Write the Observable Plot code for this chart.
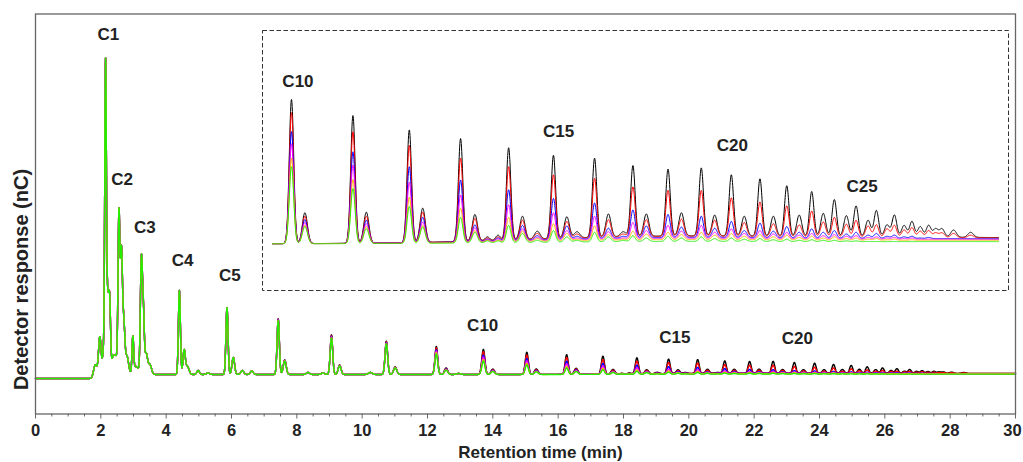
<!DOCTYPE html>
<html><head><meta charset="utf-8">
<script src="https://cdn.jsdelivr.net/npm/d3@7"></script>
<script src="https://cdn.jsdelivr.net/npm/@observablehq/plot@0.6"></script>
<style>
body{margin:0;background:#fff;}
#wrap{position:relative;width:1023px;height:462px;overflow:hidden;}
#inset{position:absolute;left:261px;top:29px;}
</style></head><body><div id="wrap"><div id="main"></div><div id="inset"></div></div>
<script>
// ---------- series ----------
const seriesNames = ["Sample 1","Sample 2","Sample 3","Sample 4","Sample 5","Sample 6"];
const seriesColors = ["#000000","#ff0000","#0000ff","#ff00ff","#ffb300","#22ee00"];

// ---------- solvent front (level before front, in response units) ----------
const preFrontLevel = -4;
const frontStart = 1.7;
const frontEnd = 2.0;

// ---------- early peaks (C1–C5 region, identical for all series) ----------
const earlyTimes   = [1.83,1.97,2.08,2.145,2.21,2.27,2.38,2.47,2.555,2.63,2.70,2.80,2.98,3.08,3.24,3.30,3.39,3.50,4.405,4.55,4.65,4.98,5.28,5.862,6.055,6.33,6.62,8.34,8.80,10.25,12.95];
const earlyHeights = [12,38,20,308,70,70,18,14,160,118,50,18,35,8,110,60,20,10,84,24,8,4,1.5,67,17,4,3.5,2,1.5,2,1];
const earlyWidths  = [0.05,0.04,0.03,0.025,0.03,0.028,0.05,0.04,0.028,0.03,0.035,0.05,0.025,0.08,0.03,0.03,0.04,0.05,0.03,0.035,0.05,0.04,0.05,0.032,0.04,0.045,0.045,0.05,0.05,0.06,0.06];

// ---------- homologous peaks (apex level per series) ----------
const peakTimes  = [7.43,7.63,9.06,9.31,10.74,11.01,12.27,12.57,13.71,14.00,15.04,15.33,16.26,16.55,17.37,17.68,17.95,18.18,18.41,18.71,19.03,19.38,19.67,19.89,20.27,20.57,20.89,21.10,21.39,21.86,22.15,22.58,22.87,23.23,23.51,23.85,24.14,24.43,24.70,24.97,25.22,25.46,25.72,25.93,26.19,26.37,26.60,26.76,26.97,27.14,27.32,27.50,27.65,27.79,28.04,28.41];
const peakWidths = [0.035,0.045,0.038,0.045,0.04,0.05,0.042,0.05,0.048,0.055,0.048,0.055,0.048,0.055,0.048,0.055,0.05,0.05,0.048,0.055,0.06,0.048,0.055,0.06,0.048,0.055,0.06,0.048,0.055,0.048,0.055,0.048,0.055,0.048,0.055,0.048,0.055,0.048,0.055,0.048,0.055,0.05,0.055,0.05,0.055,0.05,0.055,0.05,0.055,0.05,0.055,0.05,0.055,0.055,0.06,0.06];
const apexBlack   = [55.7,14.5,39.7,9.5,33.3,7.5,28,6.5,25.1,5.4,22.3,5.5,19.8,6.2,18.3,5.1,1.2,1.5,16.7,4.8,2.2,15.4,4.7,2.1,14.9,5.2,2.1,13.6,5.2,13.0,5.4,13.2,5.0,12.0,4.8,11.3,4.8,10.1,5.0,9.1,5.3,7.7,4.9,6.6,4.1,5.8,3.3,5.0,3.2,3.9,3.0,3.2,2.6,2.6,2.4,2.0];
const apexRed     = [55.3,14.3,39.0,9.3,32.6,7.3,26.8,6.0,22.8,4.8,19.5,4.8,17.1,5.5,14.9,4.4,1.0,1.2,13.4,4.1,1.8,12.0,3.9,1.7,11.4,4.2,1.7,9.9,4.2,9.3,4.3,9.3,4.1,8.0,3.7,7.3,3.5,6.6,3.3,5.7,3.8,4.6,3.4,4.1,3.1,3.3,2.6,3.2,2.4,2.8,2.2,2.3,1.9,1.9,1.8,1.5];
const apexBlue    = [55.0,14.1,38.3,9.1,32.0,7.1,24.8,5.5,19.5,4.2,16.0,4.1,13.4,4.6,11.1,3.3,0.8,1.0,9.4,3.2,1.4,7.9,3.1,1.3,7.1,2.7,1.3,5.9,3.1,5.1,2.9,4.8,2.7,3.9,2.3,3.6,2.2,3.0,2.0,2.6,2.0,2.3,1.7,2.0,1.5,1.8,1.3,1.5,1.2,1.3,1.0,1.1,0.9,0.9,0.8,0.7];
const apexMagenta = [54.6,13.9,37.6,8.9,31.4,6.9,23.5,5.0,17.4,3.7,13.7,3.5,10.7,3.8,8.5,2.8,0.7,0.8,6.8,2.6,1.1,5.4,2.3,1.0,4.8,2.1,1.0,3.7,2.3,3.2,2.2,3.2,2.0,2.6,1.8,2.3,1.7,2.0,1.5,1.8,1.4,1.6,1.3,1.4,1.1,1.2,1.0,1.1,0.9,1.0,0.8,0.8,0.7,0.7,0.6,0.5];
const apexOrange  = [54.2,13.7,37.0,8.7,30.9,6.7,22.0,4.6,14.9,3.2,11.2,3.0,8.1,3.2,6.2,2.3,0.6,0.6,4.6,2.2,0.9,3.5,1.8,0.8,3.1,1.6,0.8,2.2,1.7,2.0,1.6,2.0,1.5,1.8,1.3,1.6,1.2,1.5,1.1,1.3,1.0,1.2,0.9,1.0,0.8,0.9,0.7,0.8,0.6,0.7,0.5,0.6,0.5,0.5,0.4,0.3];
const apexGreen   = [53.8,13.5,36.5,8.5,30.5,6.5,20.5,4.3,13.4,3.0,9.6,2.6,6.5,2.9,4.6,2.0,0.5,0.5,3.2,1.8,0.6,2.3,1.2,0.6,2.0,1.2,0.6,1.4,1.0,1.3,1.0,1.2,0.9,1.0,0.8,0.9,0.7,0.8,0.6,0.7,0.6,0.6,0.5,0.5,0.4,0.4,0.3,0.4,0.3,0.3,0.2,0.3,0.2,0.2,0.2,0.1];

// ---------- unresolved hump under late peaks ----------
const humpTimes = [22, 29];
const humpWidths = [3, 3];
const humpBlack = [1.3, 1.0];
const humpRed = [1.25, 0.95];
const humpBlue = [1.05, 0.8];
const humpMagenta = [0.9, 0.7];
const humpOrange = [0.7, 0.55];
const humpGreen = [0.4, 0.35];

// ---------- axis ticks ----------
const majorTicks = [0,2,4,6,8,10,12,14,16,18,20,22,24,26,28,30];
const minorTicks = [0.5,1,1.5,2.5,3,3.5,4.5,5,5.5,6.5,7,7.5,8.5,9,9.5,10.5,11,11.5,12.5,13,13.5,14.5,15,15.5,16.5,17,17.5,18.5,19,19.5,20.5,21,21.5,22.5,23,23.5,24.5,25,25.5,26.5,27,27.5,28.5,29,29.5];

// ---------- labels ----------
const mainLabelNames = ["C1","C2","C3","C4","C5","C10","C15","C20"];
const mainLabelTimes = [2.23,2.65,3.35,4.50,5.95,13.69,19.57,23.32];
const mainLabelLevels = [340,195,146.5,114,99,49.3,36.5,36.2];
const insetLabelNames = ["C10","C15","C20","C25"];
const insetLabelTimes = [13.85,19.49,23.25,26.06];
const insetLabelLevels = [28.3,19.5,17.1,10.0];

const xTitle = "Retention time (min)";
const yTitle = "Detector response (nC)";

// ---------- build traces ----------
const apexBySeries = [apexBlack,apexRed,apexBlue,apexMagenta,apexOrange,apexGreen];
const humpBySeries = [humpBlack,humpRed,humpBlue,humpMagenta,humpOrange,humpGreen];
function gauss(t, c, s) { const d = (t - c) / s; return Math.exp(-0.5 * d * d); }
function humpAt(t, h) { let v = 0; for (let i = 0; i < humpTimes.length; i++) v += h[i] * gauss(t, humpTimes[i], humpWidths[i]); return v; }
function frontBase(t) {
  if (t <= frontStart) return preFrontLevel;
  if (t >= frontEnd) return 0;
  return preFrontLevel * (1 - (t - frontStart) / (frontEnd - frontStart));
}
const step = 0.005, nSteps = 6000;
const rows = [];
seriesNames.forEach((name, k) => {
  const apex = apexBySeries[k], hump = humpBySeries[k];
  const amps = peakTimes.map((c, i) => Math.max(0, apex[i] - humpAt(c, hump)));
  for (let i = 0; i <= nSteps; i++) {
    const t = i * step;
    let v = frontBase(t) + humpAt(t, hump);
    for (let j = 0; j < earlyTimes.length; j++) {
      if (Math.abs(t - earlyTimes[j]) < 7 * earlyWidths[j]) v += earlyHeights[j] * gauss(t, earlyTimes[j], earlyWidths[j]);
    }
    for (let j = 0; j < peakTimes.length; j++) {
      if (Math.abs(t - peakTimes[j]) < 7 * peakWidths[j]) v += amps[j] * gauss(t, peakTimes[j], peakWidths[j]);
    }
    rows.push({t, v, s: name});
  }
});
const insetDomain = [13.299, 29.013];
const insetRows = rows.filter(d => d.t >= insetDomain[0] && d.t <= insetDomain[1]);

const font = "'Liberation Sans', Arial, Helvetica, sans-serif";
const mainLabels = mainLabelNames.map((n, i) => ({n, t: mainLabelTimes[i], v: mainLabelLevels[i]}));
const insetLabels = insetLabelNames.map((n, i) => ({n, t: insetLabelTimes[i], v: insetLabelLevels[i]}));
const lastTick = majorTicks[majorTicks.length - 1];

const main = Plot.plot({
  width: 1023, height: 462,
  marginTop: 13.5, marginRight: 8, marginBottom: 48.5, marginLeft: 35,
  style: {fontFamily: font, background: "white"},
  x: {domain: [0, 30]},
  y: {domain: [-39.5, 360.5], axis: null},
  color: {domain: seriesNames, range: seriesColors},
  marks: [
    Plot.line(rows, {x: "t", y: "v", z: "s", stroke: "s", strokeWidth: 1.4}),
    Plot.frame({stroke: "#666", strokeWidth: 1.3}),
    Plot.axisX({ticks: majorTicks, tickSize: 5, stroke: "#666", label: null, tickFormat: () => ""}),
    Plot.axisX({ticks: minorTicks, tickSize: 3, stroke: "#666", label: null, tickFormat: () => ""}),
    Plot.text(majorTicks.filter(d => d !== lastTick), {x: d => d, text: d => String(d), frameAnchor: "bottom", dy: 17, fontSize: 16.5, fontWeight: "bold", fill: "#222", textAnchor: "middle", lineAnchor: "middle"}),
    Plot.text([lastTick], {x: d => d, text: d => String(d), frameAnchor: "bottom", dx: -3, dy: 17, fontSize: 16.5, fontWeight: "bold", fill: "#222", textAnchor: "middle", lineAnchor: "middle"}),
    Plot.text(mainLabels, {x: "t", y: "v", text: "n", fontSize: 17, fontWeight: "bold", fill: "#222", textAnchor: "middle", lineAnchor: "middle"}),
    Plot.text([xTitle], {frameAnchor: "bottom", dx: 15, dy: 38.5, fontSize: 17, fontWeight: "bold", fill: "#222", textAnchor: "middle", lineAnchor: "middle"}),
    Plot.text([yTitle], {frameAnchor: "left", dx: -14, dy: 65.5, rotate: -90, fontSize: 20, fontWeight: "bold", fill: "#222", textAnchor: "middle", lineAnchor: "middle"})
  ]
});
document.getElementById("main").appendChild(main);

const inset = Plot.plot({
  width: 748, height: 262,
  marginTop: 1, marginRight: 1, marginBottom: 1, marginLeft: 1,
  style: {fontFamily: font, background: "transparent", overflow: "visible"},
  x: {domain: insetDomain, range: [11, 737], axis: null},
  y: {domain: [-8.3, 37.27], range: [262, 0], axis: null},
  color: {domain: seriesNames, range: seriesColors},
  marks: [
    Plot.frame({stroke: "#333", strokeWidth: 1, strokeDasharray: "4.5,2.5"}),
    Plot.line(insetRows, {x: "t", y: "v", z: "s", stroke: "s", strokeWidth: 1}),
    Plot.text(insetLabels, {x: "t", y: "v", text: "n", fontSize: 17, fontWeight: "bold", fill: "#222", textAnchor: "middle", lineAnchor: "middle"})
  ]
});
document.getElementById("inset").appendChild(inset);
</script></body></html>
